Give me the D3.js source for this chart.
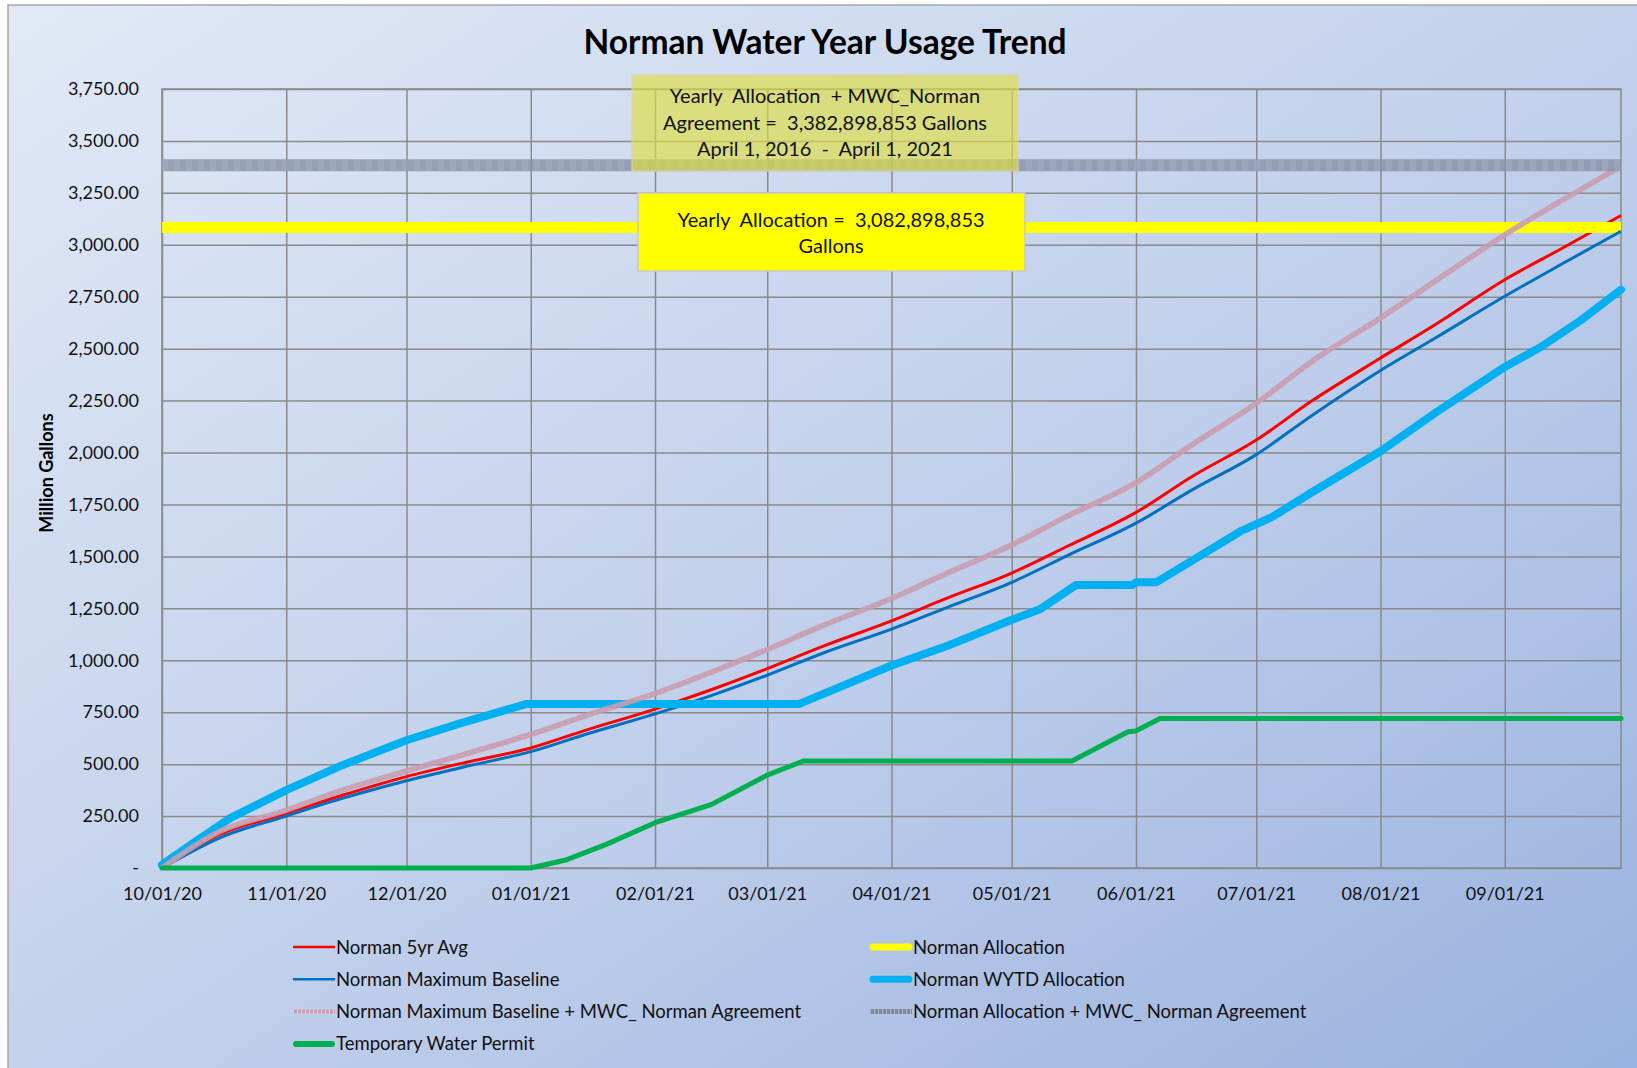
<!DOCTYPE html>
<html>
<head>
<meta charset="utf-8">
<script src="https://cdn.jsdelivr.net/npm/d3@7"></script>
<style>
body{margin:0;background:#fff;}
svg{display:block;font-family:Lato,"Open Sans",sans-serif;}
</style>
</head>
<body>
<div id="chart"></div>
<script>
// chart values (million gallons, cumulative)
var smoothDates=["2020-10-01","2020-10-15","2020-11-01","2020-11-15","2020-12-01","2020-12-15",
    "2021-01-01","2021-01-15","2021-02-01","2021-02-15","2021-03-01","2021-03-15","2021-04-01",
    "2021-04-15","2021-05-01","2021-05-15","2021-06-01","2021-06-15","2021-07-01","2021-07-15",
    "2021-08-01","2021-08-15","2021-09-01","2021-09-15","2021-09-30"];
var avg5yr=[0,158,263,350,440,505,578,665,765,858,960,1068,1190,1300,1420,1550,1712,1885,2060,2250,2455,2620,2832,2980,3141];
var maxBaseline=[0,142,250,335,420,485,560,645,742,830,928,1035,1150,1255,1375,1505,1660,1820,1990,2180,2395,2555,2752,2905,3065];
var maxBaselineMwc=[0,172,278,375,467,545,643,735,840,942,1052,1168,1297,1420,1555,1695,1855,2038,2237,2440,2648,2830,3048,3211,3378];

var wytdDates=["2020-10-01","2020-10-08","2020-10-18","2020-11-01","2020-11-15","2020-12-01","2020-12-15",
    "2020-12-31","2021-03-09","2021-04-01","2021-04-15","2021-05-01","2021-05-08","2021-05-17",
    "2021-05-31","2021-06-01","2021-06-06","2021-06-15","2021-06-27","2021-07-05","2021-07-15",
    "2021-08-01","2021-08-15","2021-09-01","2021-09-10","2021-09-20","2021-09-30"];
var wytdValues=[15,110,240,375,495,615,700,790,790,975,1070,1195,1245,1362,1362,1375,1375,1480,1620,1690,1810,2006,2195,2412,2508,2637,2784];

var permitDates=["2020-10-01","2021-01-01","2021-01-10","2021-01-20","2021-02-01","2021-02-15","2021-03-01",
    "2021-03-10","2021-05-16","2021-05-30","2021-06-01","2021-06-07","2021-09-30"];
var permitValues=[0,0,40,115,218,305,447,515,515,656,660,720,720];

var allocation=3082.898853;
var allocationMwc=3382.898853;

var yTicks=[0,250,500,750,1000,1250,1500,1750,2000,2250,2500,2750,3000,3250,3500,3750];
var xStart="2020-10-01", xEnd="2021-09-30";

// set SVG dimension
var svgWidth=1637, svgHeight=1068;
var margin={top:89,right:16,bottom:200,left:162};
var chartWidth=svgWidth-margin.left-margin.right;
var chartHeight=svgHeight-margin.top-margin.bottom;

var parse=d3.timeParse("%Y-%m-%d");

var svg=d3.select("#chart").append("svg")
    .attr("width",svgWidth)
    .attr("height",svgHeight);

// background gradient
var defs=svg.append("defs");
var grad=defs.append("linearGradient").attr("id","bg")
    .attr("x1",0).attr("y1",0).attr("x2",1).attr("y2",1);
grad.append("stop").attr("offset","0%").attr("stop-color","#e1e9f6");
grad.append("stop").attr("offset","50%").attr("stop-color","#c3d1ec");
grad.append("stop").attr("offset","100%").attr("stop-color","#98b1df");

svg.append("rect")
    .attr("x",8).attr("y",5)
    .attr("width",svgWidth+20).attr("height",svgHeight+20)
    .attr("fill","url(#bg)")
    .attr("stroke","#a6a6a6")
    .attr("stroke-width",1.5);

var chartGroup=svg.append("g")
    .attr("transform",`translate(${margin.left},${margin.top})`);

// scales
var xScale=d3.scaleTime()
    .domain([parse(xStart),parse(xEnd)])
    .range([0,chartWidth]);
var yScale=d3.scaleLinear()
    .domain([0,3750])
    .range([chartHeight,0]);

// axes with gridlines
var leftAxis=d3.axisLeft(yScale)
    .tickValues(yTicks)
    .tickFormat(d=>d===0?"-":d3.format(",.2f")(d))
    .tickSize(-chartWidth)
    .tickPadding(23);
var bottomAxis=d3.axisBottom(xScale)
    .ticks(d3.timeMonth.every(1))
    .tickFormat(d3.timeFormat("%m/%d/%y"))
    .tickSize(-chartHeight)
    .tickPadding(19);

var yAxis=chartGroup.append("g").call(leftAxis);
var xAxis=chartGroup.append("g")
    .attr("transform",`translate(0,${chartHeight})`)
    .call(bottomAxis);

[yAxis,xAxis].forEach(function(ax){
    ax.select(".domain").remove();
    ax.selectAll(".tick line").attr("stroke","#8a8a8a").attr("stroke-width",1.5);
    ax.selectAll(".tick text").attr("fill","#111").attr("font-size","18px")
        .attr("font-family","Lato, sans-serif");
});

// plot frame
chartGroup.append("rect")
    .attr("width",chartWidth).attr("height",chartHeight)
    .attr("fill","none").attr("stroke","#8a8a8a").attr("stroke-width",1.5);

// series data
function pairs(dates,values){
    return dates.map((d,i)=>({date:parse(d),value:values[i]}));
}
var smoothLine=d3.line().x(d=>xScale(d.date)).y(d=>yScale(d.value)).curve(d3.curveMonotoneX);
var straightLine=d3.line().x(d=>xScale(d.date)).y(d=>yScale(d.value));
var flatLine=function(v){
    return straightLine([{date:parse(xStart),value:v},{date:parse(xEnd),value:v}]);
};

// Norman 5yr Avg
chartGroup.append("path")
    .attr("d",smoothLine(pairs(smoothDates,avg5yr)))
    .attr("fill","none").attr("stroke","#ff0000").attr("stroke-width",3);

// Norman Allocation
chartGroup.append("path")
    .attr("d",flatLine(allocation))
    .attr("fill","none").attr("stroke","#ffff00").attr("stroke-width",11);

// Norman Maximum Baseline
chartGroup.append("path")
    .attr("d",smoothLine(pairs(smoothDates,maxBaseline)))
    .attr("fill","none").attr("stroke","#0070c0").attr("stroke-width",3);

// Norman WYTD Allocation
chartGroup.append("path")
    .attr("d",straightLine(pairs(wytdDates,wytdValues)))
    .attr("fill","none").attr("stroke","#00b0f0").attr("stroke-width",8)
    .attr("stroke-linejoin","round").attr("stroke-linecap","round");

// Norman Maximum Baseline + MWC_ Norman Agreement
chartGroup.append("path")
    .attr("d",smoothLine(pairs(smoothDates,maxBaselineMwc)))
    .attr("fill","none").attr("stroke","#c99cae").attr("stroke-opacity",0.9).attr("stroke-width",5.5);
chartGroup.append("path")
    .attr("d",smoothLine(pairs(smoothDates,maxBaselineMwc)))
    .attr("fill","none").attr("stroke","#ffffff").attr("stroke-opacity",0.3)
    .attr("stroke-width",1).attr("stroke-dasharray","1,6");

// Norman Allocation + MWC_ Norman Agreement
chartGroup.append("path")
    .attr("d",flatLine(allocationMwc))
    .attr("fill","none").attr("stroke","#8690a6").attr("stroke-opacity",0.8).attr("stroke-width",12);
chartGroup.append("path")
    .attr("d",flatLine(allocationMwc))
    .attr("fill","none").attr("stroke","#a6afc1").attr("stroke-opacity",0.5)
    .attr("stroke-width",12).attr("stroke-dasharray","6,6");

// Temporary Water Permit
chartGroup.append("path")
    .attr("d",straightLine(pairs(permitDates,permitValues)))
    .attr("fill","none").attr("stroke","#00b050").attr("stroke-width",5)
    .attr("stroke-linejoin","round").attr("stroke-linecap","round");

// annotation boxes
var box1=svg.append("g");
box1.append("rect")
    .attr("x",632).attr("y",75).attr("width",386).attr("height",96)
    .attr("fill","#dede40").attr("fill-opacity",0.65)
    .attr("stroke","#d6d6b0").attr("stroke-width",1);
var box1Lines=["Yearly  Allocation  + MWC_Norman","Agreement =  3,382,898,853 Gallons","April 1, 2016  -  April 1, 2021"];
box1.selectAll("text").data(box1Lines).enter().append("text")
    .attr("x",825).attr("y",(d,i)=>103+i*26.5)
    .attr("text-anchor","middle").attr("font-size","20px").attr("fill","#111")
    .style("white-space","pre")
    .text(d=>d);

var box2=svg.append("g");
box2.append("rect")
    .attr("x",638).attr("y",193).attr("width",387).attr("height",78)
    .attr("fill","#ffff00")
    .attr("stroke","#c8c8c8").attr("stroke-width",1.5);
var box2Lines=["Yearly  Allocation =  3,082,898,853","Gallons"];
box2.selectAll("text").data(box2Lines).enter().append("text")
    .attr("x",831).attr("y",(d,i)=>226.5+i*26.5)
    .attr("text-anchor","middle").attr("font-size","20px").attr("fill","#111")
    .style("white-space","pre")
    .text(d=>d);

// title
svg.append("text")
    .attr("x",825).attr("y",54)
    .attr("text-anchor","middle")
    .attr("font-size","33.5px").attr("font-weight","bold").attr("fill","#000")
    .text("Norman Water Year Usage Trend");

// y axis label
svg.append("text")
    .attr("transform","translate(53,473) rotate(-90)")
    .attr("text-anchor","middle")
    .attr("font-size","18px").attr("font-weight","bold").attr("fill","#000")
    .text("Million Gallons");

// legend
var legendItems=[
    {name:"Norman 5yr Avg",color:"#ff0000",width:2.5,col:0,row:0},
    {name:"Norman Allocation",color:"#ffff00",width:7,col:1,row:0,cap:"round"},
    {name:"Norman Maximum Baseline",color:"#0070c0",width:2.5,col:0,row:1},
    {name:"Norman WYTD Allocation",color:"#00b0f0",width:7,col:1,row:1,cap:"round"},
    {name:"Norman Maximum Baseline + MWC_ Norman Agreement",color:"#c99cae",width:4,col:0,row:2,hatch:"#ecd3db"},
    {name:"Norman Allocation + MWC_ Norman Agreement",color:"#7f8aa0",width:5,col:1,row:2,hatch:"#a9b2c4"},
    {name:"Temporary Water Permit",color:"#00b050",width:6,col:0,row:3,cap:"round"}
];
var legendCols=[293,870];
var legendGroup=svg.append("g");
var legendEntry=legendGroup.selectAll("g").data(legendItems).enter().append("g")
    .attr("transform",d=>`translate(${legendCols[d.col]},${947+d.row*32.3})`);
legendEntry.append("line")
    .attr("x1",d=>d.cap?3:0).attr("x2",d=>d.cap?39:42)
    .attr("stroke",d=>d.color).attr("stroke-width",d=>d.width)
    .attr("stroke-linecap",d=>d.cap||"butt");
legendEntry.filter(d=>d.hatch).append("line")
    .attr("x1",0).attr("x2",42)
    .attr("stroke",d=>d.hatch).attr("stroke-width",d=>d.width)
    .attr("stroke-dasharray","1,3");
legendEntry.append("text")
    .attr("x",43).attr("y",6.5)
    .attr("font-size","18.5px").attr("fill","#111")
    .text(d=>d.name);
</script>
</body>
</html>
